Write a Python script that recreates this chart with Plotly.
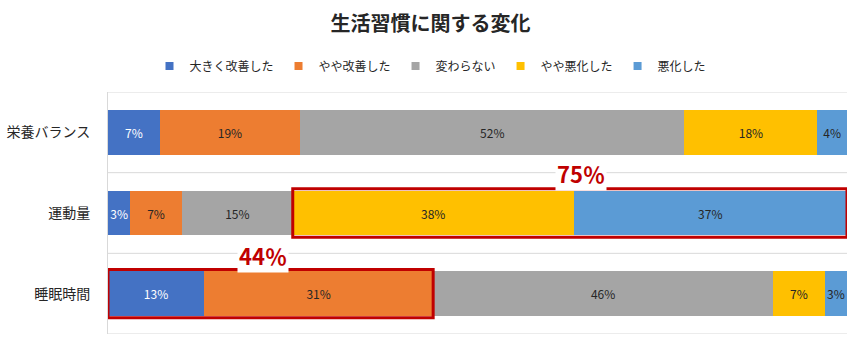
import plotly.graph_objects as go

categories = ["栄養バランス", "運動量", "睡眠時間"]
series_names = ["大きく改善した", "やや改善した", "変わらない", "やや悪化した", "悪化した"]
v_great = [7, 3, 13]
v_some = [19, 7, 31]
v_same = [52, 15, 46]
v_worse = [18, 38, 7]
v_much_worse = [4, 37, 3]
colors = ["#4472C4", "#ED7D31", "#A5A5A5", "#FFC000", "#5B9BD5"]
text_colors = ["white", "#262626", "#262626", "#262626", "#262626"]
title_text = "生活習慣に関する変化"

series_values = [v_great, v_some, v_same, v_worse, v_much_worse]
FONT = "Noto Sans CJK JP"
ypos = list(range(len(categories)))

fig = go.Figure()
for name, vals, col, tcol in zip(series_names, series_values, colors, text_colors):
    fig.add_trace(go.Bar(
        y=ypos, x=vals, name=name, orientation="h",
        marker=dict(color=col, line=dict(width=0)),
        text=[f"{v}%" for v in vals], textposition="inside",
        insidetextanchor="middle", textangle=0,
        textfont=dict(color=tcol, size=12, family=FONT),
        showlegend=False, hoverinfo="skip",
    ))
    fig.add_trace(go.Scatter(
        x=[None], y=[None], mode="markers", name=name,
        marker=dict(symbol="square", size=8, color=col),
        showlegend=True,
    ))

# gridlines between categories
for k in range(len(categories) + 1):
    fig.add_shape(type="line", xref="paper", yref="y", x0=0, x1=1,
                  y0=k - 0.5, y1=k - 0.5, line=dict(color="#D9D9D9", width=1), layer="below")

# highlight boxes
def cum(idx, upto):
    return sum(s[idx] for s in series_values[:upto])

highlights = [(1, 3, 5, 1.5, 0.0), (2, 0, 2, -1.0, 0.02)]  # (category, first series, end series, label dx, label dy)
for ci, s0, s1, dx, dy in highlights:
    x0 = cum(ci, s0)
    x1 = cum(ci, s1)
    total = x1 - x0
    fig.add_shape(type="rect", xref="x", yref="y", x0=x0, x1=x1,
                  y0=ci - 0.3, y1=ci + 0.3, line=dict(color="#C00000", width=3),
                  fillcolor="rgba(0,0,0,0)", layer="above")
    fig.add_annotation(x=(x0 + x1) / 2 + dx, y=ci - 0.5 + dy, xref="x", yref="y",
                       text=f"<b>{total}％</b>", showarrow=False, bgcolor="white",
                       font=dict(color="#C00000", size=22, family=FONT))

fig.update_layout(
    width=861, height=349,
    margin=dict(l=108, r=14, t=92, b=15, autoexpand=False),
    paper_bgcolor="white", plot_bgcolor="white",
    barmode="stack", bargap=0.45,
    title=dict(text=f"<b>{title_text}</b>", x=0.5, xref="container", xanchor="center",
               y=1 - 24 / 349, yref="container", yanchor="middle",
               font=dict(size=20, color="#262626", family=FONT)),
    legend=dict(orientation="h", x=0.5, xref="container", xanchor="center",
                y=1 - 66 / 349, yref="container", yanchor="middle",
                font=dict(size=12, color="#262626", family=FONT), itemwidth=30,
                traceorder="normal"),
    uniformtext=dict(minsize=12, mode="show"),
    font=dict(family=FONT),
    showlegend=True,
)
fig.update_xaxes(range=[0, 100], showgrid=False, zeroline=False, showticklabels=False,
                 showline=False, fixedrange=True, automargin=False)
fig.update_yaxes(tickvals=ypos, ticktext=categories, range=[len(categories) - 0.5, -0.5],
                 showgrid=False, zeroline=False, showline=True, linecolor="#D9D9D9", linewidth=1,
                 ticks="", ticklabelstandoff=14, automargin=False,
                 tickfont=dict(size=14, color="#262626", family=FONT))

fig.write_html("out.html")
